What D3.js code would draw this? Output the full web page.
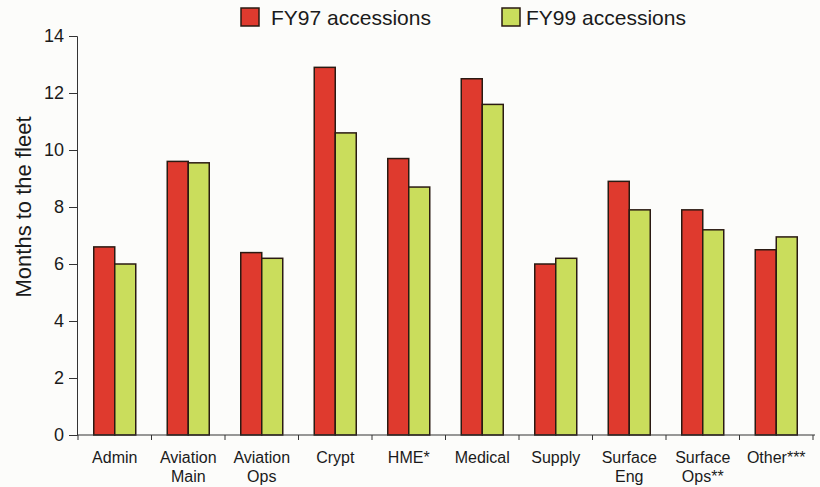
<!DOCTYPE html>
<html><head><meta charset="utf-8">
<script src="https://cdn.jsdelivr.net/npm/d3@7"></script>
<style>body{margin:0;background:#fcfcfa;} text{font-family:"Liberation Sans",Arial,sans-serif;fill:#1a1a1a;}</style>
</head><body><svg id="c" width="820" height="487"></svg>
<script>
const categories = [["Admin"],["Aviation","Main"],["Aviation","Ops"],["Crypt"],["HME*"],["Medical"],["Supply"],["Surface","Eng"],["Surface","Ops**"],["Other***"]];
const fy97 = [6.6, 9.6, 6.4, 12.9, 9.7, 12.5, 6.0, 8.9, 7.9, 6.5];
const fy99 = [6.0, 9.55, 6.2, 10.6, 8.7, 11.6, 6.2, 7.9, 7.2, 6.95];
const seriesNames = ["FY97 accessions", "FY99 accessions"];
const colors = ["#df3a2e", "#cadd5c"];
const yTicks = [0,2,4,6,8,10,12,14];

const svg = d3.select("#c");
const m = {l:77, r:7, t:36, b:52};
const W = 820, H = 487;
const x = d3.scaleBand().domain(d3.range(categories.length)).range([m.l+1, W-m.r]).paddingInner(0).paddingOuter(0);
const y = d3.scaleLinear().domain([0,14]).range([H-m.b, m.t]);
const sub = d3.scaleBand().domain([0,1]).range([0, x.bandwidth()]).paddingInner(0).paddingOuter(0.75);

const data = categories.map((c,i)=>({i, vals:[fy97[i], fy99[i]]}));
const g = svg.append("g").selectAll("g").data(data).join("g").attr("transform", d=>`translate(${x(d.i)},0)`);
g.selectAll("rect").data(d=>d.vals.map((v,k)=>({v,k}))).join("rect")
  .attr("x", d=>sub(d.k)).attr("width", sub.bandwidth())
  .attr("y", d=>y(d.v)).attr("height", d=>y(0)-y(d.v))
  .attr("fill", d=>colors[d.k]).attr("stroke","#2a1a12").attr("stroke-width",1.5);

// y axis
const ya = svg.append("g").attr("transform",`translate(${m.l},0)`)
  .call(d3.axisLeft(y).tickValues(yTicks).tickSize(8).tickPadding(5));
ya.select(".domain").attr("stroke","#333");
ya.selectAll(".tick line").attr("stroke","#333");
ya.selectAll("text").style("font-size","18px").attr("font-family","Liberation Sans, Arial, sans-serif").attr("fill","#1a1a1a");

// x axis
const xa = svg.append("g").attr("transform",`translate(0,${y(0)})`);
xa.append("line").attr("x1",m.l).attr("x2",W-m.r+2).attr("stroke","#333");
const bounds = d3.range(categories.length+1).map(i=> i<categories.length ? x(i) : x(i-1)+x.bandwidth());
xa.selectAll("line.t").data(bounds).join("line").attr("class","t")
  .attr("x1",d=>d).attr("x2",d=>d).attr("y1",0).attr("y2",5).attr("stroke","#333");
const lab = xa.selectAll("text.c").data(categories).join("text").attr("class","c")
  .attr("x",(d,i)=>x(i)+x.bandwidth()/2).attr("y",28)
  .attr("text-anchor","middle").style("font-size","16px");
lab.selectAll("tspan").data(d=>d).join("tspan")
  .attr("x",function(){return d3.select(this.parentNode).attr("x");})
  .attr("dy",(d,j)=>j===0?0:19).text(d=>d);

// y label
svg.append("text").attr("transform",`translate(31,207) rotate(-90)`)
  .attr("text-anchor","middle").style("font-size","22px").text("Months to the fleet");

// legend
const leg = [{x:241, tx:271},{x:502, tx:526}];
leg.forEach((p,k)=>{
  svg.append("rect").attr("x",p.x).attr("y",8).attr("width",18).attr("height",18)
    .attr("fill",colors[k]).attr("stroke","#2a1a12").attr("stroke-width",1.5);
  svg.append("text").attr("x",p.tx).attr("y",25).style("font-size","21px").text(seriesNames[k]);
});
</script></body></html>
